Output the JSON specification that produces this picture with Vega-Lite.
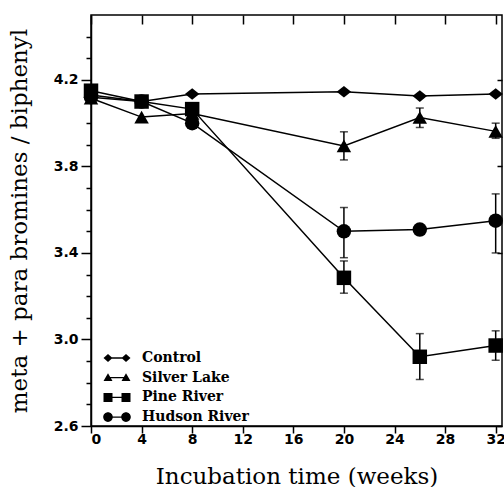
{
  "$schema": "https://vega.github.io/schema/vega-lite/v6.json",
  "width": 411,
  "height": 411,
  "autosize": "none",
  "padding": {"left": 91, "top": 15, "right": 2, "bottom": 61},
  "background": "white",
  "config": {
    "view": {"stroke": "black", "strokeWidth": 1.5},
    "axis": {
      "domainColor": "black",
      "domainWidth": 1.5,
      "tickColor": "black",
      "tickWidth": 1.5,
      "grid": false,
      "labelColor": "black",
      "labelFont": "DejaVu Sans",
      "labelFontWeight": "bold",
      "labelFontSize": 14,
      "titleColor": "black",
      "titleFont": "DejaVu Serif",
      "titleFontWeight": "normal",
      "titleFontSize": 23
    }
  },
  "datasets": {
    "main": [
      {"series": "Control", "week": 0, "value": 4.13},
      {"series": "Control", "week": 4, "value": 4.10},
      {"series": "Control", "week": 8, "value": 4.135},
      {"series": "Control", "week": 20, "value": 4.145},
      {"series": "Control", "week": 26, "value": 4.125},
      {"series": "Control", "week": 32, "value": 4.135},
      {"series": "Silver Lake", "week": 0, "value": 4.115},
      {"series": "Silver Lake", "week": 4, "value": 4.028},
      {"series": "Silver Lake", "week": 8, "value": 4.045},
      {"series": "Silver Lake", "week": 20, "value": 3.895},
      {"series": "Silver Lake", "week": 26, "value": 4.026},
      {"series": "Silver Lake", "week": 32, "value": 3.962},
      {"series": "Pine River", "week": 0, "value": 4.15},
      {"series": "Pine River", "week": 4, "value": 4.10},
      {"series": "Pine River", "week": 8, "value": 4.065},
      {"series": "Pine River", "week": 20, "value": 3.285},
      {"series": "Pine River", "week": 26, "value": 2.92},
      {"series": "Pine River", "week": 32, "value": 2.972},
      {"series": "Hudson River", "week": 0, "value": 4.12},
      {"series": "Hudson River", "week": 4, "value": 4.10},
      {"series": "Hudson River", "week": 8, "value": 4.0},
      {"series": "Hudson River", "week": 20, "value": 3.50},
      {"series": "Hudson River", "week": 26, "value": 3.508},
      {"series": "Hudson River", "week": 32, "value": 3.549}
    ],
    "err": [
      {"series": "Silver Lake", "week": 20, "lo": 3.83, "hi": 3.96},
      {"series": "Silver Lake", "week": 26, "lo": 3.98, "hi": 4.07},
      {"series": "Silver Lake", "week": 32, "lo": 3.93, "hi": 4.0},
      {"series": "Pine River", "week": 20, "lo": 3.214, "hi": 3.363},
      {"series": "Pine River", "week": 26, "lo": 2.815, "hi": 3.027},
      {"series": "Pine River", "week": 32, "lo": 2.904, "hi": 3.04},
      {"series": "Hudson River", "week": 20, "lo": 3.378, "hi": 3.61},
      {"series": "Hudson River", "week": 32, "lo": 3.40, "hi": 3.673}
    ]
  },
  "layer": [
    {
      "data": {"name": "main"},
      "mark": {"type": "line", "color": "black", "strokeWidth": 1.5},
      "encoding": {
        "x": {
          "field": "week", "type": "quantitative",
          "scale": {"domain": [0, 32.5], "nice": false, "zero": false},
          "axis": {
            "orient": "bottom",
            "values": [0, 4, 8, 12, 16, 20, 24, 28, 32],
            "tickSize": 7,
            "labelPadding": -1,
            "title": "Incubation time (weeks)",
            "titlePadding": 19
          }
        },
        "y": {
          "field": "value", "type": "quantitative",
          "scale": {"domain": [2.6, 4.5], "nice": false, "zero": false},
          "axis": {
            "orient": "left",
            "values": [2.6, 2.7, 2.8, 2.9, 3.0, 3.1, 3.2, 3.3, 3.4, 3.5, 3.6, 3.7, 3.8, 3.9, 4.0, 4.1, 4.2, 4.3, 4.4],
            "tickSize": {"condition": {"test": "round((datum.value-2.6)*10) % 4 === 0", "value": 10}, "value": 5},
            "labelExpr": "round((datum.value-2.6)*10) % 4 === 0 ? format(datum.value, '.1f') : ''",
            "labelPadding": 3,
            "title": "meta + para bromines / biphenyl",
            "titlePadding": 22
          }
        },
        "detail": {"field": "series"}
      }
    },
    {
      "data": {"name": "err"},
      "mark": {"type": "rule", "color": "black", "strokeWidth": 1.5},
      "encoding": {
        "x": {"field": "week", "type": "quantitative", "axis": null},
        "y": {"field": "lo", "type": "quantitative", "axis": null},
        "y2": {"field": "hi"}
      }
    },
    {
      "data": {"name": "err"},
      "mark": {"type": "tick", "orient": "horizontal", "color": "black", "size": 8, "thickness": 1.5},
      "encoding": {
        "x": {"field": "week", "type": "quantitative", "axis": null},
        "y": {"field": "lo", "type": "quantitative", "axis": null}
      }
    },
    {
      "data": {"name": "err"},
      "mark": {"type": "tick", "orient": "horizontal", "color": "black", "size": 8, "thickness": 1.5},
      "encoding": {
        "x": {"field": "week", "type": "quantitative", "axis": null},
        "y": {"field": "hi", "type": "quantitative", "axis": null}
      }
    },
    {
      "data": {"name": "main"},
      "mark": {"type": "point", "filled": true, "opacity": 1, "size": 210, "color": "black"},
      "encoding": {
        "x": {"field": "week", "type": "quantitative", "axis": null},
        "y": {"field": "value", "type": "quantitative", "axis": null},
        "shape": {
          "field": "series", "type": "nominal",
          "scale": {
            "domain": ["Control", "Silver Lake", "Pine River", "Hudson River"],
            "range": ["M-1,0L0,-0.8L1,0L0,0.8Z", "triangle-up", "square", "circle"]
          },
          "legend": null
        }
      }
    },
    {
      "data": {"name": "main"},
      "transform": [{"filter": "false"}],
      "mark": {"type": "point", "filled": true, "opacity": 1, "color": "black"},
      "encoding": {
        "shape": {
          "field": "series", "type": "nominal",
          "scale": {
            "domain": ["Control", "Silver Lake", "Pine River", "Hudson River"],
            "range": [
              "M-3,-0.22L3,-0.22L3,0.22L-3,0.22ZM-4.5,0L-3,-1.3L-1.5,0L-3,1.3ZM1.5,0L3,-1.3L4.5,0L3,1.3Z",
              "M-3,-0.22L3,-0.22L3,0.22L-3,0.22ZM-4.5,1.1L-3,-1.5L-1.5,1.1ZM1.5,1.1L3,-1.5L4.5,1.1Z",
              "M-3,-0.22L3,-0.22L3,0.22L-3,0.22ZM-4.5,-1.5L-1.5,-1.5L-1.5,1.5L-4.5,1.5ZM1.5,-1.5L4.5,-1.5L4.5,1.5L1.5,1.5Z",
              "M-3,-0.22L3,-0.22L3,0.22L-3,0.22ZM-4.6,0A1.6,1.6 0 1,1 -1.4,0A1.6,1.6 0 1,1 -4.6,0ZM1.4,0A1.6,1.6 0 1,1 4.6,0A1.6,1.6 0 1,1 1.4,0Z"
            ]
          },
          "legend": {
            "orient": "none",
            "legendX": 19,
            "legendY": 336,
            "title": null,
            "padding": 0,
            "symbolSize": 36,
            "symbolFillColor": "black",
            "symbolStrokeWidth": 0,
            "symbolOpacity": 1,
            "labelFont": "DejaVu Serif",
            "labelFontWeight": "bold",
            "labelFontSize": 14,
            "labelColor": "black",
            "labelOffset": 18,
            "rowPadding": 5.7,
            "labelLimit": 300
          }
        }
      }
    },
    {
      "data": {"name": "main"},
      "mark": {"type": "point", "opacity": 0},
      "encoding": {
        "x": {
          "field": "week", "type": "quantitative",
          "axis": {"orient": "top", "values": [0, 4, 8, 12, 16, 20, 24, 28, 32], "labels": false, "domain": false, "tickSize": -9, "title": null}
        },
        "y": {
          "field": "value", "type": "quantitative",
          "axis": {"orient": "right", "values": [2.6, 3.0, 3.4, 3.8, 4.2], "labels": false, "domain": false, "tickSize": -5, "title": null}
        }
      }
    }
  ],
  "resolve": {
    "axis": {"x": "independent", "y": "independent"},
    "scale": {"shape": "independent"}
  }
}
